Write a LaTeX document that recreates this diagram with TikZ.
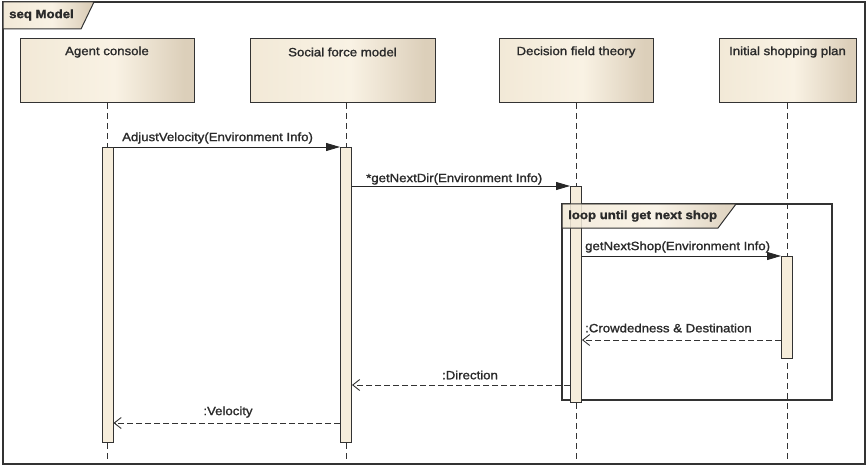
\documentclass[tikz,border=0pt]{standalone}
\usepackage{fontspec}
\setmainfont{Liberation Sans}[FakeStretch=1.1, FakeBold=1.4]
\usetikzlibrary{arrows.meta}

\definecolor{creamleft}{HTML}{F2E9D7}
\definecolor{cream}{HTML}{F9F2E4}
\definecolor{tanshade}{HTML}{DCCFBA}
\definecolor{barfill}{HTML}{F6EDDB}
\definecolor{ink}{HTML}{333333}
\definecolor{txt}{HTML}{2A2A2A}

\pgfdeclarehorizontalshading{umlshade}{100bp}{%
  color(0bp)=(creamleft); color(25bp)=(creamleft); color(52bp)=(cream);
  color(72bp)=(tanshade); color(75bp)=(tanshade); color(100bp)=(tanshade)}

\tikzset{
  frameline/.style={draw=ink, line width=1.3pt},
  loopline/.style={draw=ink, line width=1.1pt},
  tagshape/.style={draw=ink, line width=1pt, shade, shading=umlshade},
  lifebox/.style={draw=ink, line width=1.2pt, shade, shading=umlshade,
    rectangle, inner sep=0pt, anchor=north west},
  lifename/.style={text=txt, inner sep=1pt},
  lifeline/.style={draw=ink, line width=1pt, dash pattern=on 6pt off 4pt},
  actbar/.style={draw=ink, line width=1pt, fill=barfill, rectangle,
    minimum width=11pt, inner sep=0pt, anchor=north},
  sync/.style={draw=black!85, line width=0.9pt, -{Triangle[length=14pt,width=8pt]}},
  reply/.style={draw=ink, line width=0.9pt, dash pattern=on 6pt off 3pt,
    -{Straight Barb[length=7pt,width=11pt]}},
  msg/.style={text=txt, inner sep=1pt},
  tagtext/.style={text=txt, font=\fontsize{12}{14}\selectfont\bfseries, inner sep=1pt}
}

\begin{document}
\begin{tikzpicture}[x=1pt, y=-1pt, font=\fontsize{12}{14}\selectfont]
\path[use as bounding box] (0,0) rectangle (868,468);
\fill[white] (0,0) rectangle (868,468);

% outer sequence frame and its tag
\draw[frameline] (3,2) rectangle (865,464);
\path[tagshape] (3,2) -- (94,2) -- (81,29) -- (3,29) -- cycle;
\node[tagtext, anchor=west] (seqtag) at (8,15) {seq Model};

% lifeline heads
\node[lifebox, minimum width=174pt, minimum height=64pt] (boxA) at (20,38) {};
\node[lifebox, minimum width=185pt, minimum height=64pt] (boxS) at (250,38) {};
\node[lifebox, minimum width=154pt, minimum height=64pt] (boxD) at (499,38) {};
\node[lifebox, minimum width=137pt, minimum height=64pt] (boxI) at (719,38) {};
\node[lifename] (nameA) at (107,52) {Agent console};
\node[lifename] (nameS) at (342.5,52) {Social force model};
\node[lifename] (nameD) at (576,52) {Decision field theory};
\node[lifename] (nameI) at (787.5,52) {Initial shopping plan};

% lifeline axes
\coordinate (llA) at (107.5,464);
\coordinate (llS) at (346,464);
\coordinate (llD) at (576,464);
\coordinate (llI) at (787,464);
\draw[lifeline] (llA |- boxA.south) -- (llA);
\draw[lifeline] (llS |- boxS.south) -- (llS);
\draw[lifeline] (llD |- boxD.south) -- (llD);
\draw[lifeline] (llI |- boxI.south) -- (llI);

% combined fragment
\draw[loopline] (562,204) rectangle (832,400);

% activations
\node[actbar, minimum height=295pt] (actA) at (107.5,147) {};
\node[actbar, minimum height=295pt] (actS) at (346,147) {};
\node[actbar, minimum height=216pt] (actD) at (576,186) {};
\node[actbar, minimum height=102pt] (actI) at (787,256) {};

% fragment operator tag, lying over the activation
\path[tagshape, fill opacity=0.85] (562,204) -- (736,204) -- (718,228) -- (562,228) -- cycle;
\node[tagtext, anchor=west] (looptag) at (567,216) {loop until get next shop};

% y levels of the return messages
\coordinate (yCrowd) at (0,340);
\coordinate (yDir) at (0,385);
\coordinate (yVel) at (0,423);

% messages
\draw[sync] (actA.north east) -- (actS.north west);
\node[msg, anchor=west] (mAdj) at (121,138) {AdjustVelocity(Environment Info)};

\draw[sync] (actS.east |- actD.north) -- (actD.north west);
\node[msg, anchor=west] (mDir) at (365,179) {*getNextDir(Environment Info)};

\draw[sync] (actD.east |- actI.north) -- (actI.north west);
\node[msg, anchor=west] (mShop) at (584,247) {getNextShop(Environment Info)};

\draw[reply] (actI.west |- yCrowd) -- (actD.east |- yCrowd);
\node[msg, anchor=west] (mCrowd) at (584,328) {:Crowdedness \& Destination};

\draw[reply] (actD.west |- yDir) -- (actS.east |- yDir);
\node[msg] (mDirection) at (470,375) {:Direction};

\draw[reply] (actS.west |- yVel) -- (actA.east |- yVel);
\node[msg] (mVel) at (228,412) {:Velocity};
\end{tikzpicture}
\end{document}
